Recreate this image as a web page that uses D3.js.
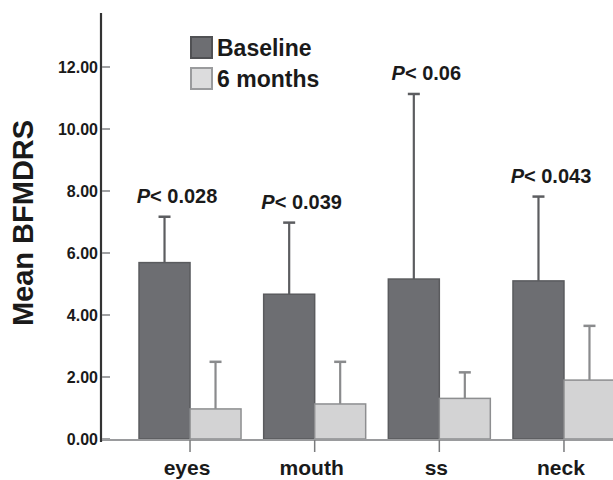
<!DOCTYPE html>
<html>
<head>
<meta charset="utf-8">
<script src="https://cdn.jsdelivr.net/npm/d3@7"></script>
<style>
  body { margin: 0; background: #fff; }
  text { font-family: Arial, "Liberation Sans", Helvetica, sans-serif; font-weight: bold; fill: #1a1a1a; }
</style>
</head>
<body>
<div id="chart"></div>
<script>
// data
var categories = ["eyes", "mouth", "ss", "neck"]
var series = ["Baseline", "6 months"]
var baselineMean = [5.69, 4.67, 5.16, 5.10]
var baselineErr  = [7.17, 6.98, 11.13, 7.82]
var sixMonthMean = [0.97, 1.13, 1.31, 1.90]
var sixMonthErr  = [2.49, 2.49, 2.15, 3.65]
var pLabels = ["0.028", "0.039", "0.06", "0.043"]
var yTicks = [0, 2, 4, 6, 8, 10, 12]

var width = 613, height = 480

var svg = d3.select("#chart")
  .append("svg")
    .attr("width", width)
    .attr("height", height)

// scales
var y = d3.scaleLinear()
  .domain([0, 12])
  .range([439, 67])

var x = d3.scaleBand()
  .domain(categories)
  .range([127.7, 626.3])
  .padding(0)

var barW = 51
var xSub = d3.scaleBand()
  .domain(series)
  .range([-barW, barW])

var fills = {"Baseline": "#6d6e72", "6 months": "#d3d3d4"}
var strokes = {"Baseline": "#5a5b5e", "6 months": "#8d8e90"}
var errColor = {"Baseline": "#5c5d60", "6 months": "#8a8b8d"}

var rows = []
categories.forEach(function (c, i) {
  rows.push({cat: c, s: "Baseline", v: baselineMean[i], e: baselineErr[i]})
  rows.push({cat: c, s: "6 months", v: sixMonthMean[i], e: sixMonthErr[i]})
})

function cx(d) { return x(d.cat) + x.bandwidth() / 2 }

// error bars (upper only)
var eb = svg.append("g").selectAll("g")
  .data(rows)
  .enter()
  .append("g")
eb.append("line")
  .attr("x1", d => cx(d) + xSub(d.s) + barW / 2)
  .attr("x2", d => cx(d) + xSub(d.s) + barW / 2)
  .attr("y1", d => y(d.v))
  .attr("y2", d => y(d.e))
  .attr("stroke", d => errColor[d.s])
  .attr("stroke-width", 2.2)
eb.append("line")
  .attr("x1", d => cx(d) + xSub(d.s) + barW / 2 - 6)
  .attr("x2", d => cx(d) + xSub(d.s) + barW / 2 + 6)
  .attr("y1", d => y(d.e))
  .attr("y2", d => y(d.e))
  .attr("stroke", d => errColor[d.s])
  .attr("stroke-width", 2.5)

// bars
svg.append("g")
  .selectAll("rect")
  .data(rows)
  .enter()
  .append("rect")
    .attr("x", d => cx(d) + xSub(d.s))
    .attr("y", d => y(d.v))
    .attr("width", barW)
    .attr("height", d => y(0) - y(d.v))
    .attr("fill", d => fills[d.s])
    .attr("stroke", d => strokes[d.s])
    .attr("stroke-width", 1.5)

// x axis
svg.append("line")
  .attr("x1", 101).attr("x2", width)
  .attr("y1", y(0) + 1).attr("y2", y(0) + 1)
  .attr("stroke", "#9a9b9d")
  .attr("stroke-width", 2)

svg.append("g")
  .selectAll("line")
  .data(categories)
  .enter()
  .append("line")
    .attr("x1", d => x(d) + x.bandwidth() / 2)
    .attr("x2", d => x(d) + x.bandwidth() / 2)
    .attr("y1", y(0) + 1)
    .attr("y2", y(0) + 13)
    .attr("stroke", "#7a7b7d")
    .attr("stroke-width", 1.5)

svg.append("g")
  .selectAll("text")
  .data(categories)
  .enter()
  .append("text")
    .attr("x", d => x(d) + x.bandwidth() / 2 - 3)
    .attr("y", 475)
    .attr("text-anchor", "middle")
    .style("font-size", "21px")
    .text(d => d)

// y axis
svg.append("line")
  .attr("x1", 101).attr("x2", 101)
  .attr("y1", 13).attr("y2", y(0) + 3)
  .attr("stroke", "#333")
  .attr("stroke-width", 2.2)

var yt = svg.append("g").selectAll("g")
  .data(yTicks)
  .enter()
  .append("g")
yt.append("line")
  .attr("x1", 102).attr("x2", 110)
  .attr("y1", d => y(d)).attr("y2", d => y(d))
  .attr("stroke", "#a0a1a3")
  .attr("stroke-width", 2)
yt.append("text")
  .attr("x", 98)
  .attr("y", d => y(d) + 6)
  .attr("text-anchor", "end")
  .style("font-size", "16px")
  .text(d => d.toFixed(2))

svg.append("text")
  .attr("transform", "translate(33,223) rotate(-90)")
  .attr("text-anchor", "middle")
  .style("font-size", "29px")
  .text("Mean BFMDRS")

// p-value labels
var pl = svg.append("g").selectAll("text")
  .data(categories)
  .enter()
  .append("text")
    .attr("x", d => x(d) + x.bandwidth() / 2 - 13)
    .attr("y", (d, i) => y(baselineErr[i]) - 14)
    .attr("text-anchor", "middle")
    .style("font-size", "20px")
pl.append("tspan")
  .style("font-style", "italic")
  .text("P")
pl.append("tspan")
  .text((d, i) => "< " + pLabels[i])

// legend
var lg = svg.append("g").selectAll("g")
  .data(series)
  .enter()
  .append("g")
    .attr("transform", (d, i) => "translate(191," + (37 + i * 31) + ")")
lg.append("rect")
  .attr("width", 21)
  .attr("height", 21)
  .attr("fill", d => d === "Baseline" ? fills[d] : "#dcdcdd")
  .attr("stroke", d => d === "Baseline" ? "#505154" : "#9a9b9d")
  .attr("stroke-width", 2)
lg.append("text")
  .attr("x", 26)
  .attr("y", 19)
  .style("font-size", "23px")
  .text(d => d)
</script>
</body>
</html>
